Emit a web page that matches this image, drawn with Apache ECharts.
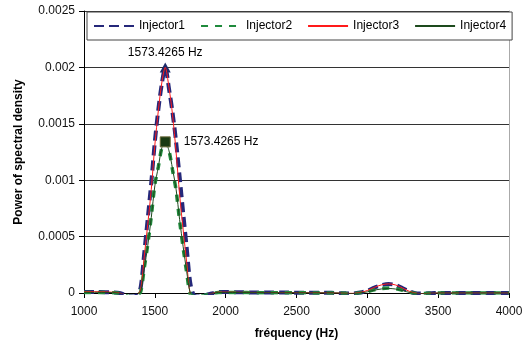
<!DOCTYPE html>
<html>
<head>
<meta charset="utf-8">
<script src="https://cdn.jsdelivr.net/npm/echarts@6/dist/echarts.min.js"></script>
<style>
  html, body { margin: 0; padding: 0; background: #fff; }
  #chart { width: 529px; height: 348px; }
</style>
</head>
<body>
<div id="chart"></div>
<script>
// Sample frequencies (Hz)
const freqs = [
  1000, 1050, 1100, 1150, 1200, 1250, 1300, 1325, 1350, 1375,
  1400, 1425, 1450, 1475, 1500, 1525, 1550, 1573.4265, 1600, 1625,
  1650, 1675, 1700, 1725, 1750, 1775, 1800, 1825, 1850, 1900,
  1950, 2000, 2100, 2200, 2300, 2400, 2500, 2600, 2700, 2800,
  2850, 2900, 2950, 3000, 3050, 3100, 3150, 3200, 3250, 3300,
  3350, 3400, 3450, 3500, 3600, 3700, 3800, 3900, 4000
];

// Power spectral density per injector
const injector1 = [
  0.000008, 0.000008, 0.000008, 0.000007, 0.000005, 0.000000, -0.000022, -0.000030, -0.000030, -0.000018,
  0.00005, 0.00035, 0.00066, 0.00098, 0.00134, 0.00163, 0.00186, 0.00200, 0.00181, 0.00160,
  0.00134, 0.00103, 0.00071, 0.00040, 0.00009, -0.000020, -0.000030, -0.000030, -0.000022, -0.000005,
  0.000008, 0.000008, 0.000006, 0.000005, 0.000004, 0.000004, 0.000003, 0.000003, 0.000002, 0.000000,
  -0.000003, -0.000004, 0.000004, 0.000020, 0.000048, 0.000070, 0.000080, 0.000070, 0.000042, 0.000012,
  -0.000004, -0.000005, -0.000002, 0.000000, 0.000000, 0.000000, 0.000000, 0.000000, 0.000000
];
const injector2 = [
  0.000004, 0.000004, 0.000004, 0.000004, 0.000002, -0.000003, -0.000024, -0.000032, -0.000032, -0.000020,
  0.00001, 0.00022, 0.00043, 0.00068, 0.00096, 0.00112, 0.00129, 0.00134, 0.00126, 0.00109,
  0.00091, 0.00064, 0.00040, 0.00018, -0.00001, -0.000028, -0.000032, -0.000030, -0.000022, -0.000006,
  0.000004, 0.000005, 0.000004, 0.000003, 0.000003, 0.000002, 0.000002, 0.000001, 0.000001, 0.000000,
  -0.000003, -0.000004, 0.000002, 0.000012, 0.000028, 0.000040, 0.000044, 0.000039, 0.000024, 0.000006,
  -0.000004, -0.000004, -0.000002, 0.000000, 0.000000, 0.000000, 0.000000, 0.000000, 0.000000
];
const injector3 = [
  0.000012, 0.000012, 0.000011, 0.000010, 0.000007, 0.000001, -0.000020, -0.000028, -0.000028, -0.000016,
  0.00003, 0.00032, 0.00061, 0.00092, 0.00131, 0.00162, 0.00187, 0.00200, 0.00182, 0.00158,
  0.00125, 0.00087, 0.00056, 0.00027, -0.00001, -0.000026, -0.000030, -0.000028, -0.000020, -0.000004,
  0.000008, 0.000008, 0.000006, 0.000005, 0.000004, 0.000004, 0.000003, 0.000003, 0.000002, 0.000000,
  -0.000003, -0.000003, 0.000005, 0.000022, 0.000050, 0.000072, 0.000081, 0.000071, 0.000043, 0.000013,
  -0.000003, -0.000005, -0.000002, 0.000000, 0.000000, 0.000000, 0.000000, 0.000000, 0.000000
];
const injector4 = [
  0.000006, 0.000006, 0.000006, 0.000005, 0.000003, -0.000002, -0.000023, -0.000031, -0.000031, -0.000019,
  0.00001, 0.00021, 0.00042, 0.00067, 0.00095, 0.00112, 0.00129, 0.00134, 0.00126, 0.00110,
  0.00092, 0.00065, 0.00041, 0.00019, 0.00000, -0.000027, -0.000031, -0.000029, -0.000021, -0.000005,
  0.000005, 0.000005, 0.000004, 0.000003, 0.000003, 0.000002, 0.000002, 0.000001, 0.000001, 0.000000,
  -0.000004, -0.000005, 0.000000, 0.000010, 0.000025, 0.000036, 0.000040, 0.000035, 0.000021, 0.000004,
  -0.000005, -0.000005, -0.000002, 0.000000, 0.000000, 0.000000, 0.000000, 0.000000, 0.000000
];

const seriesNames = ['Injector1', 'Injector2', 'Injector3', 'Injector4'];
const xTicks = [1000, 1500, 2000, 2500, 3000, 3500, 4000];
const yTicks = [0, 0.0005, 0.001, 0.0015, 0.002, 0.0025];

const peakFreq = 1573.4265;
const FONT = '"Liberation Sans", Arial, sans-serif';

// Build [x, y] pairs; the peak sample optionally carries a labelled marker
function pairs(values, peakMarker) {
  return freqs.map((f, i) => {
    if (peakMarker && f === peakFreq) {
      return Object.assign({ value: [f, values[i]] }, peakMarker);
    }
    return [f, values[i]];
  });
}

const peakLabel = {
  show: true,
  color: '#000',
  fontFamily: FONT,
  fontSize: 12,
  formatter: p => p.value[0] + ' Hz'
};

const chart = echarts.init(document.getElementById('chart'), null, { renderer: 'canvas' });

chart.setOption({
  animation: false,
  backgroundColor: '#fff',
  textStyle: { fontFamily: FONT },
  grid: { left: 84, right: 20, top: 11, bottom: 55, containLabel: false },
  legend: {
    data: seriesNames,
    left: 87,
    top: 12,
    padding: [8, 6, 8, 6],
    itemWidth: 40,
    itemHeight: 12,
    itemGap: 15,
    borderColor: '#444',
    borderWidth: 1,
    backgroundColor: '#fff',
    itemStyle: { opacity: 0 },
    textStyle: { fontFamily: FONT, fontSize: 12, color: '#000' }
  },
  xAxis: {
    type: 'value',
    min: xTicks[0],
    max: xTicks[xTicks.length - 1],
    interval: xTicks[1] - xTicks[0],
    name: 'fréquency (Hz)',
    nameLocation: 'middle',
    nameGap: 35,
    nameTextStyle: { fontFamily: FONT, fontSize: 12, fontWeight: 'bold', color: '#000' },
    axisLine: { onZero: false, lineStyle: { color: '#000', width: 1 } },
    axisTick: { show: true, length: 5, lineStyle: { color: '#000' } },
    axisLabel: {
      margin: 13, fontSize: 12, color: '#111', fontFamily: FONT,
      formatter: v => String(v)
    },
    splitLine: { show: false }
  },
  yAxis: [{
    type: 'value',
    min: yTicks[0],
    max: yTicks[yTicks.length - 1],
    interval: yTicks[1] - yTicks[0],
    name: 'Power of spectral density',
    nameLocation: 'middle',
    nameGap: 59,
    nameTextStyle: { fontFamily: FONT, fontSize: 12, fontWeight: 'bold', color: '#000' },
    axisLine: { show: true, lineStyle: { color: '#000', width: 1 } },
    axisTick: { show: true, length: 5, lineStyle: { color: '#000' } },
    axisLabel: {
      margin: 9, fontSize: 12, color: '#111', fontFamily: FONT,
      formatter: v => String(+v.toFixed(4))
    },
    splitLine: { show: true, lineStyle: { color: '#333', width: 1 } }
  }, {
    type: 'value',
    position: 'right',
    min: yTicks[0],
    max: yTicks[yTicks.length - 1],
    interval: yTicks[1] - yTicks[0],
    axisLine: { show: true, lineStyle: { color: '#aaa', width: 1 } },
    axisTick: { show: false },
    axisLabel: { show: false },
    splitLine: { show: false }
  }],
  series: [
    {
      name: 'Injector1',
      type: 'line',
      smooth: 0.3,
      symbol: 'none',
      color: '#25287a',
      lineStyle: { color: '#25287a', width: 4, type: [10, 5] },
      data: pairs(injector1, {
        symbol: 'triangle',
        symbolSize: [11, 10],
        itemStyle: { color: '#1c2a6a' },
        label: Object.assign({ position: 'top', distance: 4 }, peakLabel)
      }),
      z: 2
    },
    {
      name: 'Injector2',
      type: 'line',
      smooth: 0.3,
      symbol: 'none',
      color: '#1f8a3c',
      lineStyle: { color: '#1f8a3c', width: 3.5, type: [7, 7] },
      data: pairs(injector2),
      z: 3
    },
    {
      name: 'Injector3',
      type: 'line',
      smooth: 0.3,
      symbol: 'none',
      color: '#ff1a1a',
      lineStyle: { color: '#ff1a1a', width: 1 },
      data: pairs(injector3),
      z: 4
    },
    {
      name: 'Injector4',
      type: 'line',
      smooth: 0.3,
      symbol: 'none',
      color: '#1d4a1d',
      lineStyle: { color: '#1d4a1d', width: 1 },
      data: pairs(injector4, {
        symbol: 'rect',
        symbolSize: 10,
        itemStyle: { color: '#1a3a12', borderColor: '#6b6a3a', borderWidth: 1 },
        label: Object.assign({ position: 'right', distance: 13 }, peakLabel)
      }),
      z: 5
    }
  ]
});
</script>
</body>
</html>
